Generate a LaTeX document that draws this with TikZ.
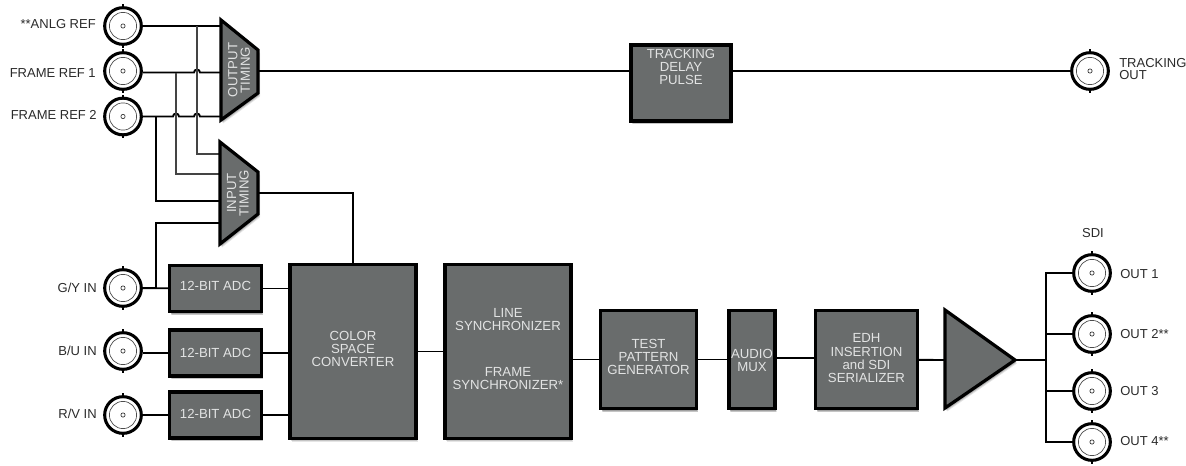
\documentclass[tikz,border=0pt]{standalone}
\usepackage{fontspec}
\setmainfont{Liberation Sans}
\usetikzlibrary{shadows,positioning}
\definecolor{blockgrey}{HTML}{696C6C}
\definecolor{blocktext}{HTML}{E2E3E3}
\definecolor{labeltext}{HTML}{2A2A2A}
\definecolor{wiregrey}{HTML}{444444}
\tikzset{
  softshadow/.style={
    drop shadow={shadow xshift=1.5pt,shadow yshift=-2.6pt,opacity=.10,fill=black},
    drop shadow={shadow xshift=1.1pt,shadow yshift=-2.0pt,opacity=.14,fill=black},
    drop shadow={shadow xshift=0.8pt,shadow yshift=-1.4pt,opacity=.18,fill=black}},
  blockbox/.style={draw=black,fill=blockgrey,line width=2.4pt,rectangle,inner sep=0pt,
    text=blocktext,font=\fontsize{9.9}{9.75}\selectfont,softshadow},
  blockshape/.style={draw=black,fill=blockgrey,line width=2.4pt,line join=miter,softshadow},
  blocklabel/.style={text=blocktext,align=center,font=\fontsize{9.9}{9.4}\selectfont,inner sep=0pt},
  bnc/.style={circle,draw=black,fill=white,line width=2.3pt,minimum size=27.5pt,inner sep=0pt},
  sidelabel/.style={text=labeltext,font=\fontsize{9.75}{9}\selectfont,inner sep=0pt,align=left},
  wire/.style={draw=black,line width=1.4pt},
  thinwire/.style={draw=black,line width=.8pt},
  greywire/.style={draw=wiregrey,line width=1.1pt},
}
\newcommand{\bncdeco}[1]{%
  \draw[black!70,line width=.5pt] (#1) circle[radius=10.2pt];
  \draw[black!80,line width=.5pt] (#1) circle[radius=1.6pt];
  \draw[black,line width=1pt] ([yshift=-.5pt]#1.north) -- ++(0,1.9pt);
  \draw[black,line width=1pt] ([yshift=.5pt]#1.south) -- ++(0,-1.9pt);
}
\newcommand{\blk}[2][0pt]{\raisebox{\dimexpr#1-2.5pt\relax}[0pt][0pt]{\begin{tabular}{@{}c@{}}#2\end{tabular}}}
\begin{document}
\begin{tikzpicture}[x=.75pt,y=-.75pt]
\useasboundingbox (0,0) rectangle (1186,465);
% connectors' free coordinates on the trapezoids
\coordinate (ot1) at (221,26); \coordinate (ot2) at (221,72.5); \coordinate (ot3) at (221,116.5);
\coordinate (otout) at (258,71);
\coordinate (it1) at (220,154); \coordinate (it2) at (220,174); \coordinate (it3) at (220,201); \coordinate (it4) at (220,223);
\coordinate (itout) at (258,193);
\coordinate (triin) at (945,360); \coordinate (triout) at (1015,360);
\coordinate (fan) at (1046,360);
% BNC connectors
\node[bnc] (anlg) at (123,26) {};
\node[bnc] (fr1) at (123,71) {};
\node[bnc] (fr2) at (123,116.5) {};
\node[bnc] (gy) at (123,288) {};
\node[bnc] (bu) at (123,351) {};
\node[bnc] (rv) at (123,415) {};
\node[bnc] (trk) at (1090,71) {};
\node[bnc] (o1) at (1092,273) {};
\node[bnc] (o2) at (1092,334) {};
\node[bnc] (o3) at (1092,391) {};
\node[bnc] (o4) at (1092,442) {};
% blocks
\node[blockbox,minimum width=75pt,minimum height=57pt] (delay) at (681,83) {\blk[10.4pt]{TRACKING\\DELAY\\PULSE}};
\node[blockbox,minimum width=68.5pt,minimum height=35pt] (adc1) at (215.5,288.5) {\blk[.3pt]{12-BIT ADC}};
\node[blockbox,minimum width=68.5pt,minimum height=34.5pt] (adc2) at (215.5,353) {\blk[-1.6pt]{12-BIT ADC}};
\node[blockbox,minimum width=68.5pt,minimum height=34.5pt] (adc3) at (215.5,415) {\blk[-.85pt]{12-BIT ADC}};
\node[blockbox,minimum width=94.5pt,minimum height=130pt] (csc) at (353,351.5) {\blk[.3pt]{COLOR\\SPACE\\CONVERTER}};
\node[blockbox,minimum width=94.5pt,minimum height=130pt] (sync) at (508,351.5) {\blk[.6pt]{LINE\\SYNCHRONIZER\\[24.75pt]FRAME\\SYNCHRONIZER*}};
\node[blockbox,minimum width=71.5pt,minimum height=74pt] (tpg) at (648.5,359.5) {\blk[.3pt]{TEST\\PATTERN\\GENERATOR}};
\node[blockbox,minimum width=34.5pt,minimum height=74pt] (mux) at (752,359.5) {\blk[-2pt]{AUDIO\\MUX}};
\node[blockbox,minimum width=76pt,minimum height=74pt] (edh) at (866.5,359.5) {\blk[-.5pt]{EDH\\INSERTION\\and SDI\\SERIALIZER}};
% connectors
\draw[wire] (anlg) -- (ot1);
\draw[wire] (fr1.east |- ot2) -- (194,72.5) arc[start angle=180,end angle=360,radius=3] -- (ot2);
\draw[wire] (fr2) -- (173,116.5) arc[start angle=180,end angle=360,radius=3] -- (194,116.5) arc[start angle=180,end angle=360,radius=3] -- (ot3);
\draw[greywire] (197,26) -- (197,154) -- (it1);
\draw[greywire] (176,73) -- (176,174) -- (it2);
\draw[thinwire] (156,116) -- (156,201) -- (it3);
\draw[thinwire] (156,288) -- (156,223) -- (it4);
\draw[wire] (otout) -- (otout -| delay.west);
\draw[wire] (delay.east |- otout) -- (trk);
\draw[thinwire] (itout) -| (csc.north);
\draw[wire] (gy) -- (adc1);
\draw[wire] (bu.east |- adc2.west) -- (adc2);
\draw[wire] (rv) -- (adc3);
\draw[wire] (adc1.east) -- (adc1.east -| csc.west);
\draw[wire] (adc2.east) -- (adc2.east -| csc.west);
\draw[wire] (adc3.east) -- (adc3.east -| csc.west);
\draw[wire] (csc) -- (sync);
\draw[wire] (tpg.west -| sync.east) -- (tpg.west);
\draw[wire] (tpg) -- (mux);
\draw[wire] (mux.east |- 0,358) -- (edh.west |- 0,358);
\draw[wire] (edh) -- (triin);
\draw[wire] (triout) -- (fan);
\draw[thinwire] (o1) -| (fan);
\draw[thinwire] (o4) -| (fan);
\draw[wire] (o2.west) -- (o2.west -| fan);
\draw[wire] (o3.west) -- (o3.west -| fan);
% trapezoids and triangle
\path[blockshape] (221,20) -- (258,50) -- (258,93) -- (221,120) -- cycle;
\node[blocklabel,rotate=90] (otlabel) at (239,70) {OUTPUT\\TIMING};
\path[blockshape] (220,142) -- (258,172) -- (258,214) -- (220,244) -- cycle;
\node[blocklabel,rotate=90] (itlabel) at (238,193) {INPUT\\TIMING};
\path[blockshape] (945,310) -- (1015,360) -- (945,408) -- cycle;
% connector details over wires
\foreach \n in {anlg,fr1,fr2,gy,bu,rv,trk,o1,o2,o3,o4}{\bncdeco{\n}}
% labels
\node[sidelabel,anchor=east] (lanlg) at (96,24) {**ANLG REF};
\node[sidelabel,anchor=east] (lfr1) at (96,73) {FRAME REF 1};
\node[sidelabel,anchor=east] (lfr2) at (97,115) {FRAME REF 2};
\node[sidelabel,anchor=east] (lgy) at (97,288) {G/Y IN};
\node[sidelabel,anchor=east] (lbu) at (97,351) {B/U IN};
\node[sidelabel,anchor=east] (lrv) at (97,414) {R/V IN};
\node[sidelabel,anchor=west] (ltrk) at (1119,69.5) {TRACKING\\OUT};
\node[sidelabel] (lsdi) at (1093,233) {SDI};
\node[sidelabel,anchor=west] (lo1) at (1120,274) {OUT 1};
\node[sidelabel,anchor=west] (lo2) at (1120,334) {OUT 2**};
\node[sidelabel,anchor=west] (lo3) at (1120,391) {OUT 3};
\node[sidelabel,anchor=west] (lo4) at (1120,441) {OUT 4**};
\end{tikzpicture}
\end{document}
